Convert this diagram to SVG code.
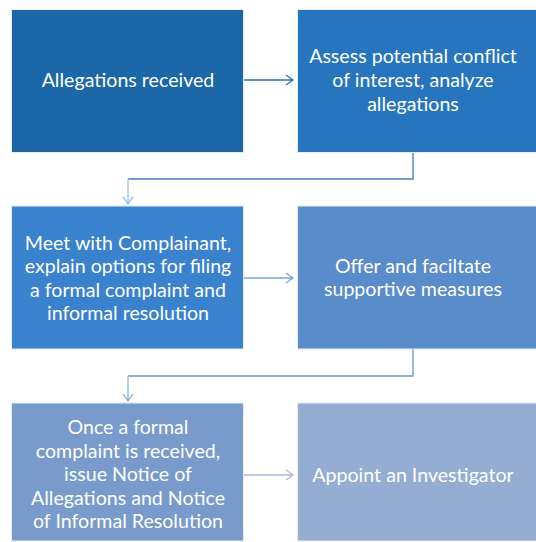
<svg xmlns="http://www.w3.org/2000/svg" width="536" height="542" viewBox="0 0 536 542">
<style>
.box{stroke:#e6edf6;stroke-width:1}
.t{font-family:Lato,"Open Sans",sans-serif;font-size:19.6px;fill:#ffffff;text-anchor:middle}
.c{fill:none;stroke-width:1.3}
</style>
<rect width="536" height="542" fill="#ffffff"/>
<g id="n1"><rect class="box" x="11.5" y="9.5" width="232" height="143" fill="#1C67A8"/>
<text class="t" x="128" y="87">Allegations received</text></g>
<g id="n2"><rect class="box" x="297.5" y="9.5" width="244" height="143" fill="#2775BF"/>
<text class="t" x="413" y="63">Assess potential conflict</text>
<text class="t" x="413" y="87">of interest, analyze</text>
<text class="t" x="413" y="111">allegations</text></g>
<g id="n3"><rect class="box" x="11.5" y="206" width="232" height="143" fill="#3A82CE"/>
<text class="t" x="128" y="249.5">Meet with Complainant,</text>
<text class="t" x="128" y="273">explain options for filing</text>
<text class="t" x="128" y="296.5">a formal complaint and</text>
<text class="t" x="128" y="320">informal resolution</text></g>
<g id="n4"><rect class="box" x="297.5" y="206" width="244" height="143" fill="#5A8CCB"/>
<text class="t" x="413" y="272.5">Offer and faciltate</text>
<text class="t" x="413" y="296">supportive measures</text></g>
<g id="n5"><rect class="box" x="11.5" y="403" width="232" height="138" fill="#789BCC"/>
<text class="t" x="128" y="434">Once a formal</text>
<text class="t" x="128" y="457.5">complaint is received,</text>
<text class="t" x="128" y="481">issue Notice of</text>
<text class="t" x="128" y="504.5">Allegations and Notice</text>
<text class="t" x="128" y="528">of Informal Resolution</text></g>
<g id="n6"><rect class="box" x="297.5" y="403" width="244" height="138" fill="#95ADD3"/>
<text class="t" x="413" y="482">Appoint an Investigator</text></g>
<g id="connectors">
<path class="c" stroke="#2C74C0" d="M244 80H293M286 75L293 80L286 85"/>
<path class="c" stroke="#3B7DC5" d="M413 153V179H128"/>
<path class="c" stroke="#9BC0E8" d="M128 179V204M123 197L128 204L133 197"/>
<path class="c" stroke="#7FA6DA" d="M244 278H293M286 273L293 278L286 283"/>
<path class="c" stroke="#6A96CF" d="M413 349V376H128"/>
<path class="c" stroke="#8FB0DC" d="M128 376V401M123 394L128 401L133 394"/>
<path class="c" stroke="#A3BBDE" d="M244 475H293M286 470L293 475L286 480"/>
</g>
</svg>
